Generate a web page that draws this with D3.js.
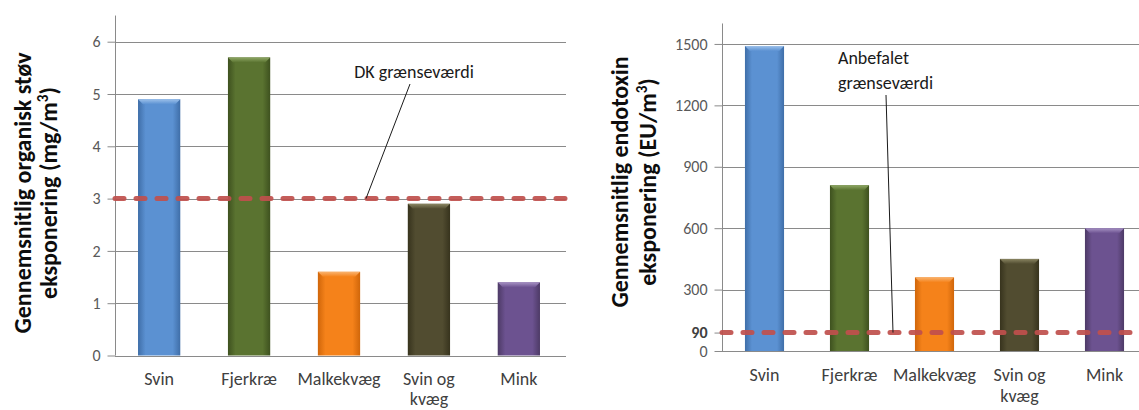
<!DOCTYPE html>
<html>
<head>
<meta charset="utf-8">
<script src="https://cdn.jsdelivr.net/npm/d3@7"></script>
<style>
  html, body { margin: 0; padding: 0; background: #fff; }
  svg { display: block; font-family: Carlito, "Open Sans", sans-serif; }
</style>
</head>
<body>
<svg id="chart" width="1139" height="410"></svg>
<script>
// Categories shared by both panels
const categories = ["Svin", "Fjerkræ", "Malkekvæg", "Svin og kvæg", "Mink"];
const categoryLines = [["Svin"], ["Fjerkræ"], ["Malkekvæg"], ["Svin og", "kvæg"], ["Mink"]];

// Organic dust exposure (mg/m3)
const dustValues = [4.9, 5.7, 1.6, 2.9, 1.4];
const dustTicks = [0, 1, 2, 3, 4, 5, 6];
const dustLimit = 3;

// Endotoxin exposure (EU/m3)
const endotoxinValues = [1490, 810, 360, 450, 600];
const endotoxinTicks = [0, 90, 300, 600, 900, 1200, 1500];
const endotoxinGrid = [300, 600, 900, 1200, 1500];
const endotoxinLimit = 90;

// Bar colours per category: [edge, centre, bevel highlight]
const barColors = [
  ["#3f6ea8", "#5b91d2", "#9cc0ea"],
  ["#3e511f", "#5a7330", "#8fa866"],
  ["#d0660a", "#f5821a", "#f9b36f"],
  ["#37331d", "#514c30", "#8a8562"],
  ["#4d3a66", "#6c5290", "#a792c4"]
];

const svg = d3.select("#chart");
const defs = svg.append("defs");

barColors.forEach((c, i) => {
  const g = defs.append("linearGradient").attr("id", "bar" + i)
    .attr("x1", "0%").attr("x2", "100%").attr("y1", "0%").attr("y2", "0%");
  g.append("stop").attr("offset", "0%").attr("stop-color", c[0]);
  g.append("stop").attr("offset", "18%").attr("stop-color", c[1]);
  g.append("stop").attr("offset", "82%").attr("stop-color", c[1]);
  g.append("stop").attr("offset", "100%").attr("stop-color", c[0]);
  const t = defs.append("linearGradient").attr("id", "bevel" + i)
    .attr("x1", "0%").attr("x2", "0%").attr("y1", "0%").attr("y2", "100%");
  t.append("stop").attr("offset", "0%").attr("stop-color", c[2]);
  t.append("stop").attr("offset", "100%").attr("stop-color", c[1]);
});

const gridColor = "#8a8a8a";
const textColor = "#404040";
const limitColor = "#c0504d";

function drawPanel(cfg) {
  const g = svg.append("g");
  const x = d3.scaleBand().domain(categories)
    .range(cfg.xRange).paddingInner(cfg.padInner).paddingOuter(cfg.padOuter);
  const y = d3.scaleLinear().domain([0, cfg.yMax]).range(cfg.yRange);
  const x0 = cfg.xRange[0];

  // horizontal gridlines
  g.selectAll(".grid").data(cfg.grid).join("line")
    .attr("x1", x0).attr("x2", cfg.gridRight)
    .attr("y1", d => Math.round(y(d)) + 0.5).attr("y2", d => Math.round(y(d)) + 0.5)
    .attr("stroke", gridColor).attr("stroke-width", 1);

  // y axis with outward ticks
  const axis = d3.axisLeft(y).tickValues(cfg.ticks).tickSize(8).tickPadding(7)
    .tickFormat(d3.format("d"));
  const ag = g.append("g").attr("transform", `translate(${x0 + 0.5},0)`).call(axis);
  ag.select(".domain").attr("stroke", gridColor).attr("d", `M-0,${y(cfg.yMax)}V${y(0)}`);
  ag.selectAll(".tick line").attr("stroke", gridColor);
  ag.selectAll(".tick text").attr("fill", "#595959")
    .style("font-size", "16px").style("font-family", "Carlito, 'Open Sans', sans-serif");
  if (cfg.boldTick !== undefined) {
    ag.selectAll(".tick text").filter(d => d === cfg.boldTick).attr("font-weight", "bold").attr("fill", "#404040");
  }

  // bars with bevelled top
  const bars = g.selectAll(".bar").data(cfg.values).join("g");
  bars.append("rect")
    .attr("x", (d, i) => x(categories[i]))
    .attr("width", x.bandwidth())
    .attr("y", d => y(d))
    .attr("height", d => y(0) - y(d))
    .attr("fill", (d, i) => `url(#bar${i})`);
  bars.append("path")
    .attr("d", (d, i) => {
      const bx = x(categories[i]), bw = x.bandwidth(), by = y(d), h = 5;
      return `M${bx},${by}H${bx + bw}L${bx + bw - 5},${by + h}H${bx + 5}Z`;
    })
    .attr("fill", (d, i) => `url(#bevel${i})`);

  // x axis baseline
  g.append("line").attr("x1", x0).attr("x2", cfg.gridRight)
    .attr("y1", Math.round(y(0)) + 0.5).attr("y2", Math.round(y(0)) + 0.5)
    .attr("stroke", gridColor);

  // category labels
  const labels = g.selectAll(".cat").data(categoryLines).join("text")
    .attr("text-anchor", "middle").attr("fill", textColor).style("font-size", "18px");
  labels.selectAll("tspan").data((d, i) => d.map(t => ({ t, i }))).join("tspan")
    .attr("x", d => x(categories[d.i]) + x.bandwidth() / 2)
    .attr("y", (d, j) => cfg.labelY + j * cfg.labelStep)
    .text(d => d.t);

  // dashed limit line
  g.append("line")
    .attr("x1", x0).attr("x2", cfg.gridRight)
    .attr("y1", y(cfg.limit)).attr("y2", y(cfg.limit))
    .attr("stroke", limitColor).attr("stroke-width", 5)
    .attr("stroke-linecap", "round")
    .attr("stroke-dasharray", cfg.dash).attr("opacity", 0.92);

  // limit annotation with leader line
  const ann = cfg.annotation;
  g.append("line")
    .attr("x1", ann.from[0]).attr("y1", ann.from[1])
    .attr("x2", ann.toX).attr("y2", y(cfg.limit))
    .attr("stroke", "#1a1a1a").attr("stroke-width", 1);
  const at = g.append("text").attr("fill", "#1a1a1a").style("font-size", "18px")
    .attr("text-anchor", ann.anchor);
  ann.lines.forEach((t, j) => {
    at.append("tspan").attr("x", ann.x).attr("y", ann.y + j * 25).text(t);
  });

  // rotated y-axis title
  const tt = g.append("text")
    .attr("transform", `translate(0,${cfg.titleY}) rotate(-90)`)
    .attr("text-anchor", "middle").attr("font-weight", "bold")
    .attr("fill", "#0d0d0d").style("font-size", "24px");
  cfg.title.forEach((line, j) => {
    const ts = tt.append("tspan").attr("x", 0).attr("y", cfg.titleX[j]);
    line.forEach(part => {
      const p = ts.append("tspan").text(part.t);
      if (part.sup) p.attr("baseline-shift", "super").style("font-size", "15px");
    });
  });
}

drawPanel({
  xRange: [115, 563], padInner: 0.53, padOuter: 0.256,
  yMax: 6.5, yRange: [355.5, 355.5 - 6.5 * 52.3],
  gridRight: 566,
  ticks: dustTicks, grid: dustTicks.filter(d => d > 0),
  values: dustValues, limit: dustLimit, dash: "9 12",
  labelY: 385, labelStep: 20,
  annotation: { lines: ["DK grænseværdi"], x: 414, y: 78, anchor: "middle", from: [410, 84], toX: 366 },
  title: [[{ t: "Gennemsnitlig organisk støv" }], [{ t: "eksponering (mg/m" }, { t: "3", sup: true }, { t: ")" }]],
  titleX: [31, 57], titleY: 193
});

drawPanel({
  xRange: [722, 1147], padInner: 0.54, padOuter: 0.27,
  yMax: 1600, yRange: [351, 351 - 1600 * 0.2047],
  gridRight: 1139,
  ticks: endotoxinTicks, grid: endotoxinGrid, boldTick: 90,
  values: endotoxinValues, limit: endotoxinLimit, dash: "9 12",
  labelY: 381, labelStep: 21,
  annotation: { lines: ["Anbefalet", "grænseværdi"], x: 838, y: 64, anchor: "start", from: [886, 95], toX: 893 },
  title: [[{ t: "Gennemsnitlig endotoxin" }], [{ t: "eksponering (EU/m" }, { t: "3", sup: true }, { t: ")" }]],
  titleX: [628, 656], titleY: 182
});
</script>
</body>
</html>
